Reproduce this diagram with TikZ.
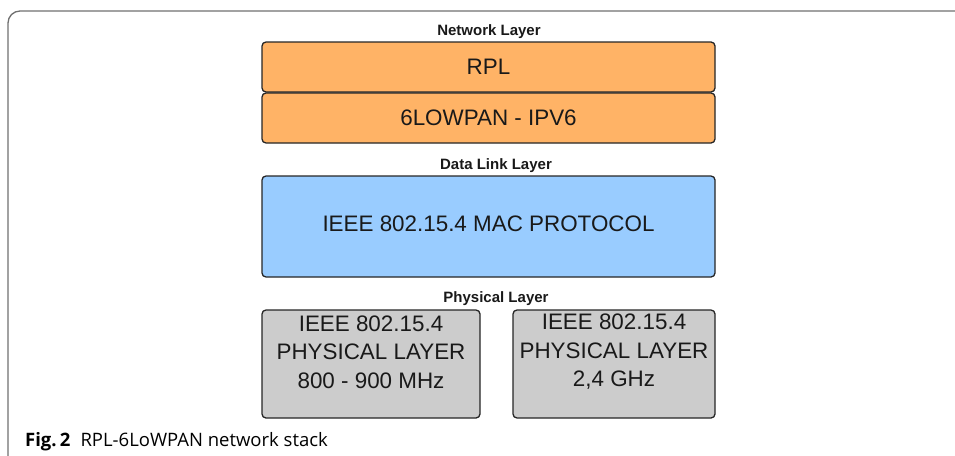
\documentclass[tikz,border=0pt]{standalone}
\usepackage{fontspec}
\setmainfont{Liberation Sans}
\newfontfamily\capfont{Open Sans}
\definecolor{orangebox}{HTML}{FFB366}
\definecolor{bluebox}{HTML}{99CCFF}
\definecolor{graybox}{HTML}{CCCCCC}
\definecolor{framegray}{HTML}{707070}
\begin{document}
\begin{tikzpicture}[x=1pt,y=-1pt,
  layerbox/.style={draw=black!85, line width=1.3pt, rounded corners=4pt},
  boxtext/.style={font=\fontsize{22.4}{28.5}\selectfont, align=center, text=black!90},
  layerlabel/.style={font=\fontsize{15}{16}\selectfont\bfseries, text=black!90}]
\useasboundingbox (0,0) rectangle (955,455);
\draw[framegray, line width=1.3pt, rounded corners=12pt] (956,11) -- (8,11) -- (8,456);
% network layer
\node[layerlabel] (netlbl) at (489,32) {Network Layer};
\filldraw[layerbox, fill=orangebox] (262,42) rectangle (715,92);
\node[boxtext] (rpl) at (488.5,67) {RPL};
\filldraw[layerbox, fill=orangebox] (262,93) rectangle (715,143);
\node[boxtext] (lowpan) at (488.5,118) {6LOWPAN - IPV6};
% data link
\node[layerlabel] (dllbl) at (496,166) {Data Link Layer};
\filldraw[layerbox, fill=bluebox] (262,176) rectangle (715,277);
\node[boxtext] (mac) at (488.5,224) {IEEE 802.15.4 MAC PROTOCOL};
% physical
\node[layerlabel] (phylbl) at (496,299) {Physical Layer};
\filldraw[layerbox, fill=graybox] (262,310) rectangle (480,418);
\node[boxtext] (phy1) at (371,352) {IEEE 802.15.4\\PHYSICAL LAYER\\800 - 900 MHz};
\filldraw[layerbox, fill=graybox] (513,310) rectangle (715,418);
\node[boxtext] (phy2) at (614,352) {IEEE 802.15.4\\PHYSICAL LAYER\\2,4 GHz};
% caption
\node[anchor=base west, inner sep=0pt, font=\capfont\fontsize{18.5}{20}\selectfont] (cap) at (25,446) {\textbf{Fig.\,2}\hspace{0.55em}RPL-6LoWPAN network stack};
\end{tikzpicture}
\end{document}
